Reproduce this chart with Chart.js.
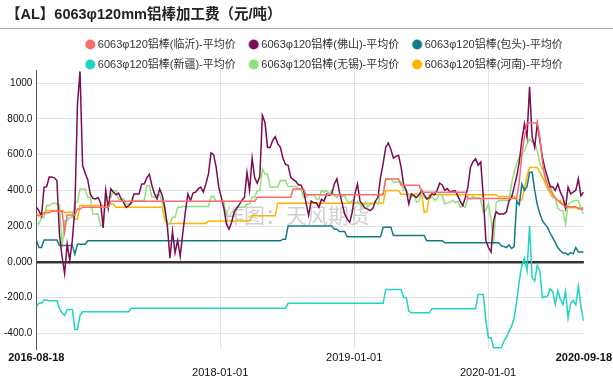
<!DOCTYPE html>
<html>
<head>
<meta charset="utf-8">
<script src="https://cdn.jsdelivr.net/npm/chart.js@4/dist/chart.umd.min.js"></script>
<style>
html,body{margin:0;padding:0;background:#fff;}
#wrap{position:relative;width:613px;height:381px;}
</style>
</head>
<body>
<div id="wrap"><canvas id="c" width="613" height="381"></canvas></div>
<script>
const chartTitle = '【AL】6063φ120mm铝棒加工费（元/吨）';
const watermarkText = '作图：天风期货';
const seriesNames = [
  '6063φ120铝棒(临沂)-平均价',
  '6063φ120铝棒(佛山)-平均价',
  '6063φ120铝棒(包头)-平均价',
  '6063φ120铝棒(新疆)-平均价',
  '6063φ120铝棒(无锡)-平均价',
  '6063φ120铝棒(河南)-平均价'
];

const dates = [
'2016-08-18','2016-08-25','2016-09-01','2016-09-08','2016-09-15','2016-09-22','2016-09-29','2016-10-06','2016-10-13','2016-10-20',
'2016-10-27','2016-11-03','2016-11-10','2016-11-17','2016-11-24','2016-12-01','2016-12-08','2016-12-15','2016-12-22','2016-12-29',
'2017-01-05','2017-01-12','2017-01-19','2017-01-26','2017-02-02','2017-02-09','2017-02-16','2017-02-23','2017-03-02','2017-03-09',
'2017-03-16','2017-03-23','2017-03-30','2017-04-06','2017-04-13','2017-04-20','2017-04-27','2017-05-04','2017-05-11','2017-05-18',
'2017-05-25','2017-06-01','2017-06-08','2017-06-15','2017-06-22','2017-06-29','2017-07-06','2017-07-13','2017-07-20','2017-07-27',
'2017-08-03','2017-08-10','2017-08-17','2017-08-24','2017-08-31','2017-09-07','2017-09-14','2017-09-21','2017-09-28','2017-10-05',
'2017-10-12','2017-10-19','2017-10-26','2017-11-02','2017-11-09','2017-11-16','2017-11-23','2017-11-30','2017-12-07','2017-12-14',
'2017-12-21','2017-12-28','2018-01-04','2018-01-11','2018-01-18','2018-01-25','2018-02-01','2018-02-08','2018-02-15','2018-02-22',
'2018-03-01','2018-03-08','2018-03-15','2018-03-22','2018-03-29','2018-04-05','2018-04-12','2018-04-19','2018-04-26','2018-05-03',
'2018-05-10','2018-05-17','2018-05-24','2018-05-31','2018-06-07','2018-06-14','2018-06-21','2018-06-28','2018-07-05','2018-07-12',
'2018-07-19','2018-07-26','2018-08-02','2018-08-09','2018-08-16','2018-08-23','2018-08-30','2018-09-06','2018-09-13','2018-09-20',
'2018-09-27','2018-10-04','2018-10-11','2018-10-18','2018-10-25','2018-11-01','2018-11-08','2018-11-15','2018-11-22','2018-11-29',
'2018-12-06','2018-12-13','2018-12-20','2018-12-27','2019-01-03','2019-01-10','2019-01-17','2019-01-24','2019-01-31','2019-02-07',
'2019-02-14','2019-02-21','2019-02-28','2019-03-07','2019-03-14','2019-03-21','2019-03-28','2019-04-04','2019-04-11','2019-04-18',
'2019-04-25','2019-05-02','2019-05-09','2019-05-16','2019-05-23','2019-05-30','2019-06-06','2019-06-13','2019-06-20','2019-06-27',
'2019-07-04','2019-07-11','2019-07-18','2019-07-25','2019-08-01','2019-08-08','2019-08-15','2019-08-22','2019-08-29','2019-09-05',
'2019-09-12','2019-09-19','2019-09-26','2019-10-03','2019-10-10','2019-10-17','2019-10-24','2019-10-31','2019-11-07','2019-11-14',
'2019-11-21','2019-11-28','2019-12-05','2019-12-12','2019-12-19','2019-12-26','2020-01-02','2020-01-09','2020-01-16','2020-01-23',
'2020-01-30','2020-02-06','2020-02-13','2020-02-20','2020-02-27','2020-03-05','2020-03-12','2020-03-19','2020-03-26','2020-04-02',
'2020-04-09','2020-04-16','2020-04-23','2020-04-30','2020-05-07','2020-05-14','2020-05-21','2020-05-28','2020-06-04','2020-06-11',
'2020-06-18','2020-06-25','2020-07-02','2020-07-09','2020-07-16','2020-07-23','2020-07-30','2020-08-06','2020-08-13','2020-08-20',
'2020-08-27','2020-09-03','2020-09-10','2020-09-17'
];

const linyi = [
258,258,258,275,275,275,283,283,283,283,
283,165,262,262,262,262,295,295,305,305,
305,305,305,305,305,305,305,305,305,339,
339,339,339,339,339,339,339,339,339,339,
339,339,339,339,339,339,339,339,339,339,
339,339,339,339,339,339,339,339,339,339,
339,339,339,339,339,339,339,339,339,339,
339,339,339,339,339,339,339,339,339,339,
339,339,339,339,339,339,361,361,361,361,
361,361,361,361,361,361,361,361,361,361,
408,408,408,408,408,376,376,376,376,376,
376,376,376,376,376,376,376,376,376,376,
376,376,376,376,376,376,376,376,376,376,
376,376,376,376,376,376,464,464,464,464,
464,464,429,429,429,429,429,429,429,429,
390,390,390,390,390,390,390,390,390,390,
390,390,390,390,390,390,390,390,355,355,
355,355,355,355,355,355,355,355,355,355,
355,355,355,355,355,355,355,355,450,600,
700,777,777,777,777,777,698,560,470,430,
400,380,355,343,330,318,308,308,308,308,
308,295,295,295
];

const foshan = [
305,287,255,418,420,474,474,470,455,150,
30,-65,100,10,120,300,880,1065,540,495,
460,380,355,352,360,330,190,400,300,408,
390,375,385,352,330,305,315,333,380,380,
380,436,436,470,490,427,380,352,408,371,
305,200,20,170,50,120,30,160,280,380,
343,385,390,408,418,390,436,492,610,600,
530,418,361,300,212,183,220,280,300,320,
343,360,500,400,580,470,440,480,820,780,
640,640,680,700,660,640,580,545,540,474,
460,450,430,430,400,330,260,340,330,330,
305,350,340,380,370,380,436,464,390,330,
268,240,221,280,380,436,340,320,300,295,
287,300,340,361,474,549,640,665,630,580,
590,596,530,430,400,324,380,370,360,375,
399,375,352,360,380,375,400,440,430,400,
410,390,395,399,370,340,315,360,418,530,
560,577,540,558,361,120,80,55,230,280,
268,268,268,280,340,361,418,480,558,680,
773,698,979,700,640,773,680,586,520,474,
420,420,400,436,390,360,300,418,380,390,
400,464,370,390
];

const baotou = [
122,80,80,122,122,122,122,122,122,92,
92,92,92,92,92,43,99,99,99,99,
118,118,118,118,118,118,118,118,118,118,
118,118,118,118,118,118,118,118,118,118,
118,118,118,118,118,118,118,118,118,118,
118,118,118,118,118,118,118,118,118,118,
118,118,118,118,118,118,118,118,118,118,
118,118,118,118,118,118,118,118,118,118,
118,118,118,118,118,118,118,118,118,118,
118,118,118,118,118,118,127,127,200,200,
200,200,200,200,200,200,200,200,200,200,
200,200,200,200,200,200,183,183,170,170,
170,140,140,140,140,140,140,140,140,140,
140,140,140,140,140,193,193,193,193,148,
148,148,148,148,148,148,148,148,148,148,
148,148,118,118,118,118,118,118,118,107,
107,107,107,107,107,107,107,107,107,107,
107,107,107,107,107,107,107,107,107,107,
107,90,85,80,95,75,85,340,320,436,
400,420,500,502,400,320,270,230,210,193,
160,135,109,80,62,50,50,40,52,45,
80,55,55,55
];

const xinjiang = [
-250,-232,-232,-213,-213,-218,-218,-218,-218,-260,
-285,-300,-266,-266,-266,-378,-378,-300,-279,-279,
-279,-279,-279,-279,-279,-279,-279,-279,-279,-279,
-279,-279,-279,-279,-279,-279,-279,-260,-260,-260,
-260,-260,-260,-260,-260,-260,-260,-260,-260,-260,
-260,-260,-260,-260,-260,-260,-260,-260,-260,-260,
-260,-260,-260,-260,-260,-260,-260,-260,-260,-260,
-260,-260,-260,-260,-260,-260,-260,-260,-260,-260,
-260,-260,-260,-260,-260,-260,-260,-260,-260,-260,
-260,-260,-260,-260,-260,-260,-260,-260,-232,-232,
-232,-232,-232,-232,-232,-232,-232,-232,-232,-232,
-232,-232,-232,-232,-232,-232,-232,-232,-232,-232,
-232,-232,-232,-232,-232,-232,-232,-232,-232,-232,
-232,-232,-232,-232,-232,-232,-154,-154,-154,-154,
-154,-154,-154,-200,-200,-275,-285,-285,-285,-285,
-285,-285,-285,-285,-262,-262,-262,-262,-262,-262,
-262,-262,-262,-262,-262,-262,-262,-262,-262,-262,
-262,-262,-182,-182,-182,-330,-425,-425,-481,-481,
-481,-481,-444,-420,-390,-360,-313,-219,-107,-20,
20,-51,200,-88,-107,-20,-51,-200,-195,-190,
-150,-165,-238,-160,-210,-238,-165,-313,-230,-215,
-240,-135,-250,-330
];

const wuxi = [
212,212,249,249,315,315,324,330,324,320,
80,230,230,249,249,330,335,408,408,408,
361,361,268,268,268,202,205,361,361,361,
399,399,352,352,352,324,324,324,343,343,
343,343,343,427,427,361,361,376,376,330,
287,212,212,249,249,305,305,309,309,309,
309,309,309,309,309,309,309,309,365,365,
339,339,339,339,255,255,255,255,305,305,
305,305,324,324,361,361,399,399,520,492,
492,418,418,418,418,455,455,455,421,421,
421,421,408,408,361,361,376,376,376,352,
352,399,390,399,380,399,371,360,380,365,
371,340,330,345,325,340,320,305,330,310,
320,324,335,324,380,380,464,464,464,446,
446,446,446,399,399,371,360,375,333,340,
399,361,350,352,365,345,355,380,370,324,
330,333,345,330,340,305,315,305,361,350,
365,355,361,350,277,290,324,240,99,333,
343,343,343,343,343,436,500,549,586,600,
624,660,689,670,661,624,549,520,492,450,
436,380,361,300,287,287,212,324,333,340,
343,343,300,268
];

const henan = [
268,268,268,268,287,287,287,287,287,287,
287,277,277,277,277,240,240,315,315,315,
315,315,315,315,315,315,315,315,324,324,
324,305,305,305,305,305,305,305,305,305,
305,305,305,305,305,305,305,305,305,305,
234,215,215,215,215,215,215,215,215,215,
215,215,215,215,215,215,215,228,228,228,
228,228,228,228,228,228,228,228,228,228,
228,228,228,228,258,258,258,258,258,258,
258,258,258,258,328,328,328,328,328,328,
328,328,328,328,328,328,328,328,328,328,
328,328,328,328,328,328,328,328,328,328,
328,328,328,328,328,328,328,328,328,328,
328,328,328,328,328,328,399,399,399,399,
399,399,378,378,378,378,378,378,378,378,
378,277,277,376,376,376,376,376,376,376,
376,376,376,376,376,376,376,376,376,376,
376,376,376,376,376,376,376,376,376,376,
365,365,365,365,365,365,365,346,346,346,
408,480,528,528,528,528,500,474,445,410,
385,360,360,343,343,320,303,303,303,303,
303,303,303,303
];

const seriesValues = [linyi, foshan, baotou, xinjiang, wuxi, henan];
const seriesColors = ['#f86c6c', '#7b0b52', '#137b88', '#22d2c2', '#8fe07a', '#ffb300'];

const xTickDates = ['2016-08-18', '2018-01-01', '2019-01-01', '2020-01-01', '2020-09-18'];
const yTickValues = [-400, -200, 0, 200, 400, 600, 800, 1000];
const yTickLabels = ['-400.0', '-200.0', '0.000', '200.0', '400.0', '600.0', '800.0', '1000'];
const yMin = -489;
const yMax = 1073;

const FONT = '"Liberation Sans", Arial, "Noto Sans CJK SC", sans-serif';
const dayNum = s => Date.UTC(+s.slice(0, 4), +s.slice(5, 7) - 1, +s.slice(8, 10)) / 86400000;
const xs = dates.map(dayNum);

// legend marker: filled circle placed near the right of a small canvas
function legendDot(color) {
  const cv = document.createElement('canvas');
  cv.width = 22; cv.height = 11;
  const g = cv.getContext('2d');
  g.fillStyle = color;
  g.beginPath();
  g.arc(14.4, 5.5, 5, 0, Math.PI * 2);
  g.fill();
  return cv;
}

const datasets = seriesValues.map((vals, k) => ({
  label: seriesNames[k],
  data: vals.map((v, i) => ({ x: xs[i], y: v })).filter(p => p.x !== undefined),
  borderColor: seriesColors[k],
  backgroundColor: seriesColors[k],
  borderWidth: 1.5,
  pointRadius: 0,
  pointHoverRadius: 0,
  pointStyle: legendDot(seriesColors[k]),
  tension: 0,
  fill: false
}));

const headerPlugin = {
  id: 'header',
  afterLayout(chart) {
    if (chart.legend) { chart.legend.left += 17; chart.legend.right += 17; }
  },
  beforeDraw(chart) {
    const c = chart.ctx;
    c.save();
    c.fillStyle = '#fff';
    c.fillRect(0, 0, chart.width, chart.height);
    c.font = 'bold 14.5px ' + FONT;
    c.fillStyle = '#222';
    c.textBaseline = 'middle';
    c.textAlign = 'left';
    c.fillText(chartTitle, 6, 14.5);
    c.strokeStyle = '#a8a8a8';
    c.lineWidth = 1;
    c.beginPath();
    c.moveTo(0, 28.5);
    c.lineTo(chart.width, 28.5);
    c.stroke();
    c.restore();
  },
  beforeDatasetsDraw(chart) {
    const c = chart.ctx;
    const a = chart.chartArea;
    c.save();
    c.font = '21px "Noto Sans CJK SC", sans-serif';
    c.fillStyle = 'rgba(150,150,150,0.45)';
    c.textAlign = 'center';
    c.textBaseline = 'middle';
    c.fillText(watermarkText, a.left + (a.right - a.left) * 0.475, a.top + (a.bottom - a.top) * 0.52);
    c.restore();
  }
};

new Chart(document.getElementById('c'), {
  type: 'line',
  data: { datasets },
  plugins: [headerPlugin],
  options: {
    responsive: false,
    animation: false,
    devicePixelRatio: 1,
    layout: { padding: { top: 30, left: 0, right: 3, bottom: 0 } },
    plugins: {
      legend: {
        position: 'top',
        align: 'center',
        maxHeight: 40,
        labels: {
          usePointStyle: true,
          boxWidth: 13,
          boxHeight: 7,
          padding: 9,
          color: '#333',
          font: { family: FONT, size: 11 }
        }
      },
      tooltip: { enabled: false },
      title: { display: false }
    },
    scales: {
      x: {
        type: 'linear',
        min: dayNum(xTickDates[0]),
        max: dayNum(xTickDates[xTickDates.length - 1]),
        afterBuildTicks: s => { s.ticks = xTickDates.map(d => ({ value: dayNum(d) })); },
        ticks: {
          autoSkip: false,
          maxRotation: 0,
          minRotation: 0,
          padding: 1,
          color: '#111',
          font: c => ({
            family: FONT,
            size: 11,
            weight: (c.index === 0 || c.index === xTickDates.length - 1) ? 'bold' : 'normal',
            lineHeight: 1.35
          }),
          callback: (v, i) => (i % 2 === 1 ? ['', xTickDates[i]] : xTickDates[i])
        },
        grid: {
          drawTicks: false,
          color: c => (c.index === 0 || c.index === xTickDates.length - 1) ? 'rgba(0,0,0,0)' : '#e2e2e2',
          lineWidth: 1
        },
        border: { display: false }
      },
      y: {
        min: yMin,
        max: yMax,
        afterBuildTicks: s => { s.ticks = yTickValues.map(v => ({ value: v })); },
        ticks: {
          padding: 4,
          color: '#111',
          font: { family: FONT, size: 10 },
          callback: v => yTickLabels[yTickValues.indexOf(v)]
        },
        grid: {
          drawTicks: false,
          color: c => (c.tick && c.tick.value === 0) ? '#333' : '#e2e2e2',
          lineWidth: c => (c.tick && c.tick.value === 0) ? 2.5 : 1
        },
        border: { display: true, color: '#555', width: 1 }
      }
    }
  }
});
</script>
</body>
</html>
